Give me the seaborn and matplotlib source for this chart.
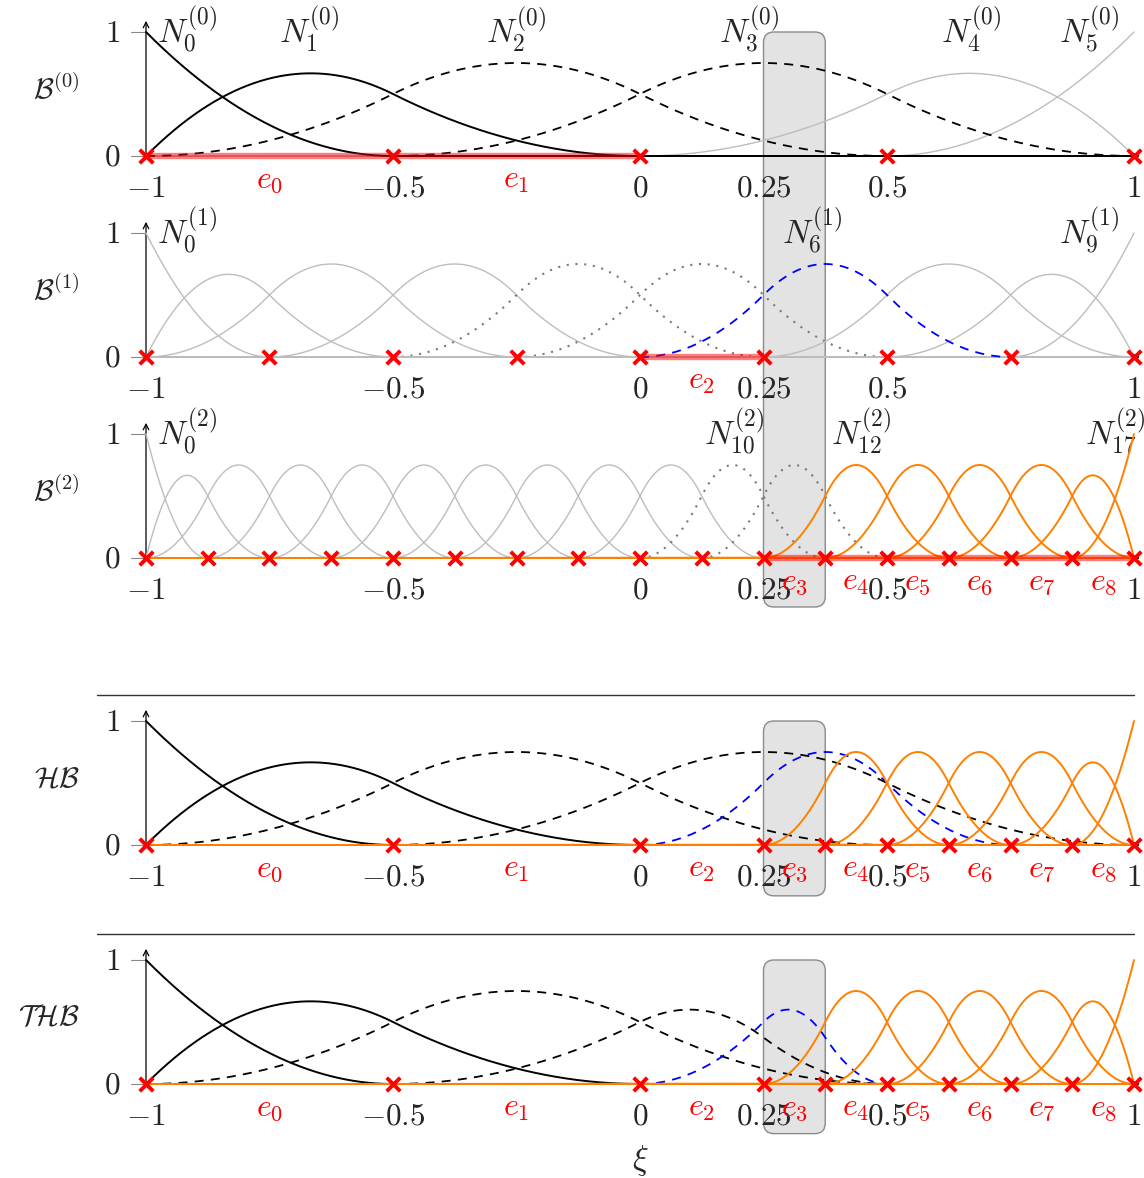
import numpy as np
import matplotlib
matplotlib.use("Agg")
import matplotlib.pyplot as plt
import seaborn as sns
from matplotlib.patches import FancyBboxPatch

sns.set_theme(style="white")
plt.rcParams["mathtext.fontset"] = "cm"
plt.rcParams["font.family"] = ["DejaVu Serif"]

# ---------------------------------------------------------------- data
degree = 2
knots_level0 = [-1, -1, -1, -0.5, 0, 0.5, 1, 1, 1]
knots_level1 = [-1, -1, -1, -0.75, -0.5, -0.25, 0, 0.25, 0.5, 0.75, 1, 1, 1]
knots_level2 = [-1, -1, -1, -0.875, -0.75, -0.625, -0.5, -0.375, -0.25, -0.125,
                0, 0.125, 0.25, 0.375, 0.5, 0.625, 0.75, 0.875, 1, 1, 1]

# vertices of the hierarchical mesh
mesh_vertices = [-1, -0.5, 0, 0.25, 0.375, 0.5, 0.625, 0.75, 0.875, 1]

# active elements of the hierarchical mesh
element_names = ["e_0", "e_1", "e_2", "e_3", "e_4", "e_5", "e_6", "e_7", "e_8"]
element_lo = [-1, -0.5, 0, 0.25, 0.375, 0.5, 0.625, 0.75, 0.875]
element_hi = [-0.5, 0, 0.25, 0.375, 0.5, 0.625, 0.75, 0.875, 1]
element_level = [0, 0, 1, 2, 2, 2, 2, 2, 2]

# active functions per level
active_level0 = [0, 1, 2, 3]
active_level1 = [6]
active_level2 = [12, 13, 14, 15, 16, 17]

# truncated functions: coefficients in the next finer basis
trunc_n3_level0_idx = [4, 5]
trunc_n3_level0_coef = [0.25, 0.75]
trunc_n6_level1_idx = [10, 11]
trunc_n6_level1_coef = [0.25, 0.75]

x_ticks = [-1, -0.5, 0, 0.25, 0.5, 1]
x_tick_labels = ["$-1$", "$-0.5$", "$0$", "$0.25$", "$0.5$", "$1$"]

# ---------------------------------------------------------------- B-splines
xs = np.linspace(-1, 1, 1201)


def basis(knots, i, p, x):
    t = np.asarray(knots, float)
    if p == 0:
        inside = (x >= t[i]) & (x < t[i + 1])
        if t[i + 1] == t[-1] and t[i] < t[i + 1]:
            inside |= x == t[-1]
        return inside.astype(float)
    out = np.zeros_like(x)
    d1 = t[i + p] - t[i]
    if d1 > 0:
        out += (x - t[i]) / d1 * basis(knots, i, p - 1, x)
    d2 = t[i + p + 1] - t[i + 1]
    if d2 > 0:
        out += (t[i + p + 1] - x) / d2 * basis(knots, i + 1, p - 1, x)
    return out


def support(knots, i):
    return knots[i], knots[i + degree + 1]


STYLES = {
    "black": dict(color="black", linewidth=1.4, linestyle="-", zorder=3),
    "dashed": dict(color="black", linewidth=1.3, linestyle=(0, (5, 4)), zorder=3),
    "grey": dict(color="#bdbdbd", linewidth=1.0, linestyle="-", zorder=2),
    "dotted": dict(color="#7a7a7a", linewidth=1.5, linestyle=(0, (1, 3.2)), zorder=2),
    "blue": dict(color="#0000ff", linewidth=1.3, linestyle=(0, (5, 4)), zorder=3),
    "orange": dict(color="#ff8000", linewidth=1.4, linestyle="-", zorder=3.5),
}


def draw(ax, y, style, lo, hi):
    st = STYLES[style]
    if st["linestyle"] == "-":
        lo, hi = -1, 1
    m = (xs >= lo) & (xs <= hi)
    sns.lineplot(x=xs[m], y=y[m], ax=ax, estimator=None, sort=False, **st)


def draw_level(ax, knots, styles):
    for i, style in styles.items():
        lo, hi = support(knots, i)
        draw(ax, basis(knots, i, degree, xs), style, lo, hi)


# ---------------------------------------------------------------- layout
W, H = 1144, 1178
fig = plt.figure(figsize=(W / 100, H / 100), dpi=100)
XL = (-1.1, 1.02)
YL = (-0.45, 1.12)
XPX = (146, 1134)   # pixel columns of x=-1 and x=1
YSCALE = 124        # pixels per unit in y
zero_rows = [156, 357, 558, 845, 1084]


def make_axes(z):
    xscale = (XPX[1] - XPX[0]) / 2
    left = XPX[0] + (XL[0] + 1) * xscale
    right = XPX[0] + (XL[1] + 1) * xscale
    top = z - YL[1] * YSCALE
    bottom = z - YL[0] * YSCALE
    ax = fig.add_axes([left / W, 1 - bottom / H, (right - left) / W, (bottom - top) / H])
    ax.set_xlim(*XL)
    ax.set_ylim(*YL)
    ax.set_axis_off()
    ax.patch.set_alpha(0)
    return ax


axes = [make_axes(z) for z in zero_rows]
FS_TICK = 22.5
FS_N = 24
FS_E = 23
FS_Y = 21


def frame(ax, ylabel, vertices):
    ax.annotate("", xy=(1.012, 0), xytext=(-1, 0),
                arrowprops=dict(arrowstyle="->", color="black", lw=0.9,
                                shrinkA=0, shrinkB=0, mutation_scale=10), zorder=1)
    ax.annotate("", xy=(-1, 1.09), xytext=(-1, 0),
                arrowprops=dict(arrowstyle="->", color="black", lw=0.9,
                                shrinkA=0, shrinkB=0, mutation_scale=10), zorder=1)
    for yv, lab in [(0, "$0$"), (1, "$1$")]:
        ax.plot([-1.03, -1], [yv, yv], color="#888888", lw=0.8)
        ax.text(-1.052, yv - 0.01, lab, ha="right", va="center", fontsize=FS_TICK)
    for xv, lab in zip(x_ticks, x_tick_labels):
        ax.text(xv, -0.33, lab, ha="center", va="baseline", fontsize=FS_TICK)
    ax.text(-1.134, 0.54, ylabel, ha="right", va="center", fontsize=FS_Y)
    sns.scatterplot(x=vertices, y=np.zeros(len(vertices)), ax=ax, marker="x",
                    s=95, color="red", linewidth=2.8, zorder=6, clip_on=False)


def band(ax, lo, hi):
    sns.lineplot(x=[lo, hi], y=[0, 0], ax=ax, color="red", alpha=0.5,
                 linewidth=4.6, solid_capstyle="butt", zorder=5)


def element_labels(ax, which):
    for k in which:
        mid = 0.5 * (element_lo[k] + element_hi[k])
        ax.text(mid, -0.255, f"${element_names[k]}$", color="red",
                ha="center", va="baseline", fontsize=FS_E, zorder=7)


def n_label(ax, text, x, ha="center"):
    ax.text(x, 1.02, text, ha=ha, va="center", fontsize=FS_N)


# ---- level 0
ax = axes[0]
frame(ax, r"$\mathcal{B}^{(0)}$", sorted(set(knots_level0)))
draw_level(ax, knots_level0, {4: "grey", 5: "grey", 2: "dashed", 3: "dashed",
                              0: "black", 1: "black"})
band(ax, element_lo[0], element_hi[1])
element_labels(ax, [0, 1])
for text, x, ha in [(r"$N_0^{(0)}$", -0.977, "left"), (r"$N_1^{(0)}$", -0.67, "center"),
                    (r"$N_2^{(0)}$", -0.25, "center"), (r"$N_3^{(0)}$", 0.22, "center"),
                    (r"$N_4^{(0)}$", 0.67, "center"), (r"$N_5^{(0)}$", 0.91, "center")]:
    n_label(ax, text, x, ha)

# ---- level 1
ax = axes[1]
frame(ax, r"$\mathcal{B}^{(1)}$", sorted(set(knots_level1)))
lvl1 = {i: "grey" for i in range(10)}
lvl1.update({4: "dotted", 5: "dotted", 6: "blue"})
draw_level(ax, knots_level1, lvl1)
band(ax, element_lo[2], element_hi[2])
element_labels(ax, [2])
for text, x, ha in [(r"$N_0^{(1)}$", -0.977, "left"), (r"$N_6^{(1)}$", 0.348, "center"),
                    (r"$N_9^{(1)}$", 0.91, "center")]:
    n_label(ax, text, x, ha)

# ---- level 2
ax = axes[2]
frame(ax, r"$\mathcal{B}^{(2)}$", sorted(set(knots_level2)))
lvl2 = {i: "grey" for i in range(10)}
lvl2.update({10: "dotted", 11: "dotted"})
lvl2.update({i: "orange" for i in active_level2})
draw_level(ax, knots_level2, lvl2)
band(ax, element_lo[3], element_hi[-1])
element_labels(ax, range(3, 9))
for text, x, ha in [(r"$N_0^{(2)}$", -0.977, "left"), (r"$N_{10}^{(2)}$", 0.19, "center"),
                    (r"$N_{12}^{(2)}$", 0.447, "center"), (r"$N_{17}^{(2)}$", 0.962, "center")]:
    n_label(ax, text, x, ha)

# ---- hierarchical basis
level0_styles = {0: "black", 1: "black", 2: "dashed", 3: "dashed"}
ax = axes[3]
frame(ax, r"$\mathcal{H}\mathcal{B}$", mesh_vertices)
draw_level(ax, knots_level0, {i: level0_styles[i] for i in active_level0})
draw_level(ax, knots_level1, {i: "blue" for i in active_level1})
draw_level(ax, knots_level2, {i: "orange" for i in active_level2})
element_labels(ax, range(9))

# ---- truncated hierarchical basis
ax = axes[4]
frame(ax, r"$\mathcal{T}\mathcal{H}\mathcal{B}$", mesh_vertices)
draw_level(ax, knots_level0, {i: level0_styles[i] for i in active_level0 if i != 3})
t3 = sum(c * basis(knots_level1, i, degree, xs)
         for i, c in zip(trunc_n3_level0_idx, trunc_n3_level0_coef))
draw(ax, t3, "dashed", knots_level1[trunc_n3_level0_idx[0]],
     knots_level1[trunc_n3_level0_idx[-1] + degree + 1])
t6 = sum(c * basis(knots_level2, i, degree, xs)
         for i, c in zip(trunc_n6_level1_idx, trunc_n6_level1_coef))
draw(ax, t6, "blue", knots_level2[trunc_n6_level1_idx[0]],
     knots_level2[trunc_n6_level1_idx[-1] + degree + 1])
draw_level(ax, knots_level2, {i: "orange" for i in active_level2})
element_labels(ax, range(9))
ax.text(0, -0.62, r"$\xi$", ha="center", va="center", fontsize=FS_N)

# separators above the hierarchical panels
for ax in axes[3:]:
    ax.plot([-1.1, 1.0], [1.21, 1.21], color="#333333", lw=1.0, clip_on=False)

# ---------------------------------------------------------------- highlight of e_3
to_fig = fig.transFigure.inverted()


def highlight(ax_top, ax_bot, y_top, y_bot):
    x0, y1 = to_fig.transform(ax_top.transData.transform((element_lo[3], y_top)))
    x1, y0 = to_fig.transform(ax_bot.transData.transform((element_hi[3], y_bot)))
    fig.patches.append(FancyBboxPatch(
        (x0, y0), x1 - x0, y1 - y0, transform=fig.transFigure,
        boxstyle="round,pad=0,rounding_size=0.009", facecolor="#e3e3e3",
        edgecolor="#8a8a8a", linewidth=1.0, zorder=-1, figure=fig))


highlight(axes[0], axes[2], 1.0, -0.395)
highlight(axes[3], axes[3], 1.0, -0.41)
highlight(axes[4], axes[4], 1.0, -0.40)

fig.savefig("out.png", dpi=100)
